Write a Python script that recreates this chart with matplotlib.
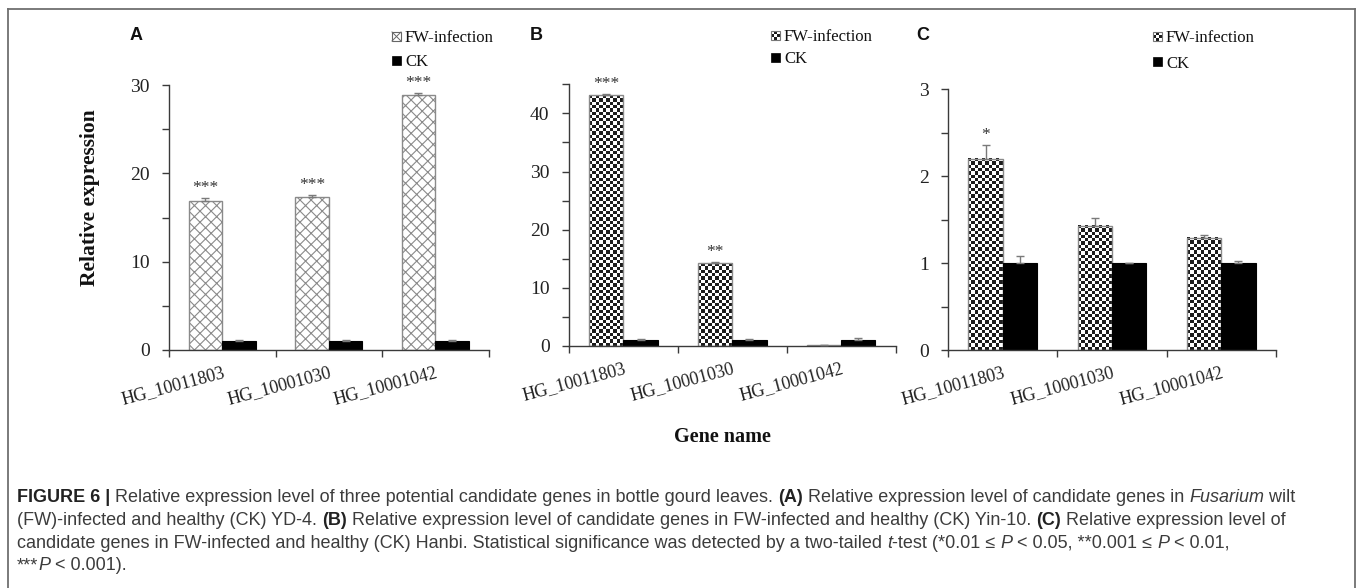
import numpy as np
import matplotlib
matplotlib.use("Agg")
import matplotlib.pyplot as plt
from matplotlib.colors import ListedColormap
from matplotlib.patches import Rectangle
from matplotlib.lines import Line2D
from matplotlib.ticker import MultipleLocator, FixedLocator, NullFormatter, FixedFormatter

# ---------------- data ----------------
genes = ['HG_10011803', 'HG_10001030', 'HG_10001042']

a_fw = [16.9, 17.3, 28.9]
a_fw_err = [0.3, 0.25, 0.2]
a_ck = [1.0, 1.0, 1.0]
a_ck_err = [0.15, 0.1, 0.1]
a_stars = ['***', '***', '***']

b_fw = [43.1, 14.2, 0.15]
b_fw_err = [0.3, 0.2, 0.1]
b_ck = [1.0, 1.0, 1.0]
b_ck_err = [0.2, 0.2, 0.3]
b_stars = ['***', '**', '']

c_fw = [2.2, 1.43, 1.29]
c_fw_err = [0.16, 0.09, 0.04]
c_ck = [1.0, 1.0, 1.0]
c_ck_err = [0.08, 0.005, 0.03]
c_stars = ['*', '', '']

series_names = ['FW-infection', 'CK']

W, H = 1357, 588
fig = plt.figure(figsize=(W / 100, H / 100), dpi=100)
SERIF = 'Liberation Serif'
SANS = 'Liberation Sans'
AXC = '#3a3a3a'
BAR_EDGE = '#8a8a8a'
plt.rcParams['hatch.linewidth'] = 0.8


def fx(x):
    return x / W


def fy(y):
    return 1 - y / H


def add_ax(x0, x1, ytop, ybot):
    return fig.add_axes([fx(x0), fy(ybot), fx(x1) - fx(x0), fy(ytop) - fy(ybot)])


checker_cmap = ListedColormap(['#ffffff', '#1c1c1c'])


def checker_fill(ax, bars, cell=3.3):
    for r in bars:
        x0, y0, w, h = r.get_x(), r.get_y(), r.get_width(), r.get_height()
        p0 = ax.transData.transform((x0, y0))
        p1 = ax.transData.transform((x0 + w, y0 + h))
        nx = max(1, int(round((p1[0] - p0[0]) / cell)))
        ny = max(1, int(round((p1[1] - p0[1]) / cell)))
        arr = np.add.outer(np.arange(ny), np.arange(nx)) % 2
        ax.imshow(arr, cmap=checker_cmap, extent=(x0, x0 + w, y0, y0 + h),
                  aspect='auto', interpolation='nearest', origin='lower', zorder=1)


def panel(ax, fw, fw_err, ck, ck_err, stars, ymax, major, minor, style, labelsize=14):
    x = np.arange(1, len(genes) + 1)
    bw = 0.315
    ax.set_xlim(0.5, len(genes) + 0.5)
    ax.set_ylim(0, ymax)
    if style == 'cross':
        fwb = ax.bar(x - bw / 2, fw, bw, facecolor='white', edgecolor=BAR_EDGE,
                     hatch='xxx', linewidth=1.0, zorder=2)
    else:
        fwb = ax.bar(x - bw / 2, fw, bw, facecolor='none', edgecolor=BAR_EDGE,
                     linewidth=1.0, zorder=2)
        checker_fill(ax, fwb)
    ax.bar(x + bw / 2, ck, bw, facecolor='black', edgecolor='black', linewidth=0.8, zorder=2)
    ax.errorbar(x - bw / 2, fw, yerr=[np.zeros(len(fw)), fw_err], fmt='none',
                ecolor='#7a7a7a', elinewidth=1.0, capsize=3, capthick=1.0, zorder=3)
    ax.errorbar(x + bw / 2, ck, yerr=[np.zeros(len(ck)), ck_err], fmt='none',
                ecolor='#7a7a7a', elinewidth=1.0, capsize=3, capthick=1.0, zorder=3)
    for xi, v, e, s in zip(x - bw / 2, fw, fw_err, stars):
        if s:
            ax.annotate(s, (xi, v + e), xytext=(0, 1.5), textcoords='offset points',
                        ha='center', va='bottom', fontsize=12.5, family=SERIF, color='#333333')
    ax.set_xlim(0.5, len(genes) + 0.5)
    ax.set_ylim(0, ymax)
    ax.patch.set_visible(False)
    for s in ['top', 'right']:
        ax.spines[s].set_visible(False)
    for s in ['left', 'bottom']:
        ax.spines[s].set_color(AXC)
        ax.spines[s].set_linewidth(1.0)
    ax.yaxis.set_major_locator(MultipleLocator(major))
    ax.yaxis.set_minor_locator(MultipleLocator(minor))
    ax.tick_params(axis='y', which='both', direction='out', length=5, width=1.0,
                   color=AXC, pad=9, labelsize=labelsize)
    ax.tick_params(axis='y', which='minor', labelleft=False)
    for t in ax.get_yticklabels():
        t.set_fontfamily(SERIF)
        t.set_color('#222222')
    # category boundaries as major x ticks, gene names as minor labels
    ax.xaxis.set_major_locator(FixedLocator(np.arange(0.5, len(genes) + 1, 1.0)))
    ax.xaxis.set_major_formatter(NullFormatter())
    ax.xaxis.set_minor_locator(FixedLocator(x))
    ax.xaxis.set_minor_formatter(FixedFormatter(genes))
    ax.tick_params(axis='x', which='major', direction='out', length=5, width=1.0, color=AXC)
    ax.tick_params(axis='x', which='minor', length=0, pad=10, labelsize=13)
    for t in ax.xaxis.get_minorticklabels():
        t.set_fontfamily(SERIF)
        t.set_rotation(15)
        t.set_rotation_mode('anchor')
        t.set_ha('right')
        t.set_va('top')
        t.set_color('#222222')


axA = add_ax(169, 488.5, 85, 350)
axB = add_ax(569, 895.5, 84.3, 346)
axC = add_ax(948.3, 1275.7, 89.3, 350.3)
panel(axA, a_fw, a_fw_err, a_ck, a_ck_err, a_stars, 30, 10, 5, 'cross')
panel(axB, b_fw, b_fw_err, b_ck, b_ck_err, b_stars, 45, 10, 5, 'checker')
panel(axC, c_fw, c_fw_err, c_ck, c_ck_err, c_stars, 3, 1, 0.5, 'checker')

# panel letters
for lab, x, y in [('A', 136, 35), ('B', 536, 35), ('C', 923, 36)]:
    fig.text(fx(x), fy(y), lab, family=SANS, weight='bold', fontsize=13,
             ha='center', va='center', color='#111111')

# legends (drawn manually)
ms = 9


def leg_marker(x0, yc, kind):
    if kind == 'cross':
        fig.patches.append(Rectangle((fx(x0), fy(yc + ms / 2)), ms / W, ms / H,
                                     transform=fig.transFigure, facecolor='white',
                                     edgecolor='#666666', lw=0.8))
        for (xa, ya, xb, yb) in [(x0, yc - ms / 2, x0 + ms, yc + ms / 2),
                                 (x0, yc + ms / 2, x0 + ms, yc - ms / 2)]:
            fig.lines.append(Line2D([fx(xa), fx(xb)], [fy(ya), fy(yb)],
                                    transform=fig.transFigure, color='#666666', lw=0.7))
    elif kind == 'checker':
        arr = np.kron(np.add.outer(np.arange(3), np.arange(3)) % 2, np.ones((3, 3)))
        fig.figimage(arr, xo=int(round(x0)), yo=int(round(H - yc - ms / 2)),
                     cmap=checker_cmap, zorder=5)
        fig.patches.append(Rectangle((fx(x0), fy(yc + ms / 2)), ms / W, ms / H,
                                     transform=fig.transFigure, facecolor='none',
                                     edgecolor='#777777', lw=0.8, zorder=6))
    else:
        fig.patches.append(Rectangle((fx(x0), fy(yc + ms / 2)), ms / W, ms / H,
                                     transform=fig.transFigure, facecolor='black',
                                     edgecolor='black', lw=0.5))


for (mx, tx, y1, y2, kind) in [(392, 405, 36.5, 60, 'cross'),
                                (771, 784, 35, 57, 'checker'),
                                (1153, 1166, 36.5, 61.5, 'checker')]:
    leg_marker(mx, y1, kind)
    leg_marker(mx, y2, 'black')
    fig.text(fx(tx), fy(y1), series_names[0], family=SERIF, fontsize=12,
             ha='left', va='center_baseline', color='#111111')
    fig.text(fx(tx), fy(y2), series_names[1], family=SERIF, fontsize=12,
             ha='left', va='center_baseline', color='#111111')

# axis titles
fig.text(fx(90), fy(198), 'Relative expression', family=SERIF, weight='bold',
         fontsize=15.5, rotation=90, ha='center', va='center', color='#111111')
fig.text(fx(722), fy(437), 'Gene name', family=SERIF, weight='bold',
         fontsize=14.5, ha='center', va='center', color='#111111')

# frame
frame_c = '#6f6f6f'
fig.lines.append(Line2D([fx(8), fx(1355)], [fy(9), fy(9)], transform=fig.transFigure,
                        color=frame_c, lw=1.3))
fig.lines.append(Line2D([fx(8), fx(8)], [fy(9), fy(590)], transform=fig.transFigure,
                        color=frame_c, lw=1.3))
fig.lines.append(Line2D([fx(1355), fx(1355)], [fy(9), fy(590)], transform=fig.transFigure,
                        color=frame_c, lw=1.3))

# caption with mixed styles
renderer = fig.canvas.get_renderer()
CAP_FS = 12.95
CAP_C = '#3c3c3c'


def run_width(s, **kw):
    t1 = fig.text(0, 0, '|' + s + '|', **kw)
    t2 = fig.text(0, 0, '||', **kw)
    w = t1.get_window_extent(renderer).width - t2.get_window_extent(renderer).width
    t1.remove()
    t2.remove()
    return w


def rich_line(x, y, runs):
    for s, st in runs:
        kw = dict(family=SANS, fontsize=CAP_FS, color=CAP_C)
        if st == 'b':
            kw['weight'] = 'bold'
            kw['color'] = '#222222'
        elif st == 'i':
            kw['style'] = 'italic'
        fig.text(fx(x), fy(y), s, ha='left', va='baseline', **kw)
        x += run_width(s, **kw) * 100 / fig.dpi


cap_lines = [
    [('FIGURE 6 |', 'b'), (' Relative expression level of three potential candidate genes in bottle gourd leaves. ', 'n'),
     ('(A)', 'b'), (' Relative expression level of candidate genes in ', 'n'), ('Fusarium', 'i'), (' wilt', 'n')],
    [('(FW)-infected and healthy (CK) YD-4. ', 'n'), ('(B)', 'b'),
     (' Relative expression level of candidate genes in FW-infected and healthy (CK) Yin-10. ', 'n'),
     ('(C)', 'b'), (' Relative expression level of', 'n')],
    [('candidate genes in FW-infected and healthy (CK) Hanbi. Statistical significance was detected by a two-tailed ', 'n'),
     ('t', 'i'), ('-test (*0.01 \u2264 ', 'n'), ('P', 'i'), (' < 0.05, **0.001 \u2264 ', 'n'), ('P', 'i'), (' < 0.01,', 'n')],
    [('***', 'n'), ('P', 'i'), (' < 0.001).', 'n')],
]
for i, runs in enumerate(cap_lines):
    rich_line(17, 502.5 + i * 22.6, runs)

fig.savefig('out.png', dpi=100)
